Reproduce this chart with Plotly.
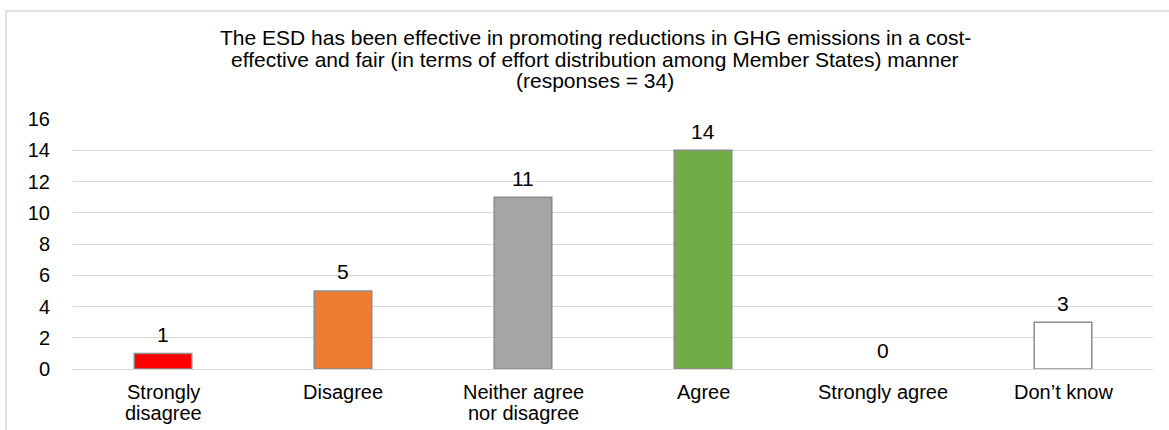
import plotly.graph_objects as go

categories = ["Strongly<br>disagree", "Disagree", "Neither agree<br>nor disagree", "Agree", "Strongly agree", "Don\u2019t know"]
values = [1, 5, 11, 14, 0, 3]
colors = ["#ff0000", "#ed7d31", "#a5a5a5", "#70ad47", "#ffffff", "#ffffff"]
tick_vals = [0, 2, 4, 6, 8, 10, 12, 14, 16]
title_lines = [
    "The ESD has been effective in promoting reductions in GHG emissions in a cost-",
    "effective and fair (in terms of effort distribution among Member States) manner",
    "(responses = 34)",
]

font_family = "Liberation Sans, Arial, sans-serif"
W, H = 1169, 430
L, R, T, B = 73, 16, 119, 61
PW, PH = W - L - R, H - T - B


def px_x(p):
    return (p - L) / PW


def px_y(p):
    return (H - B - p) / PH


fig = go.Figure(go.Bar(
    x=categories, y=values,
    marker=dict(color=colors,
                line=dict(color="#8c8c8c", width=[1.5 if v > 0 else 0 for v in values])),
    width=0.32,
    hoverinfo="x+y",
))

# data labels
for c, v in zip(categories, values):
    fig.add_annotation(x=c, y=v, xref="x", yref="y", text=str(v), showarrow=False,
                       yshift=19, yanchor="middle",
                       font=dict(size=21, color="#000000", family=font_family))

# category labels (one annotation per line for tight spacing like the reference)
for c in categories:
    for i, line in enumerate(c.split("<br>")):
        fig.add_annotation(x=c, xref="x", yref="paper", y=px_y(392 + 21 * i), text=line,
                           showarrow=False, yanchor="middle",
                           font=dict(size=20, color="#000000", family=font_family))

# title lines
for i, line in enumerate(title_lines):
    fig.add_annotation(x=px_x(595), xref="paper", yref="paper", y=px_y(38 + 21 * i), text=line,
                       showarrow=False, xanchor="center", yanchor="middle",
                       font=dict(size=21, color="#000000", family=font_family))

fig.update_layout(
    width=W, height=H,
    margin=dict(l=L, r=R, t=T, b=B),
    paper_bgcolor="white", plot_bgcolor="white",
    font=dict(family=font_family, size=20, color="#000000"),
    showlegend=False,
    xaxis=dict(showgrid=False, showline=False, ticks="", showticklabels=False),
    yaxis=dict(range=[0, 16], tickvals=tick_vals, showgrid=True, gridcolor="#d9d9d9",
               gridwidth=1, zeroline=True, zerolinecolor="#d9d9d9", zerolinewidth=1,
               ticks="", tickfont=dict(size=20), ticklabelstandoff=22),
    shapes=[dict(type="rect", xref="paper", yref="paper",
                 x0=px_x(6), x1=px_x(W + 20), y0=px_y(H + 20), y1=px_y(11),
                 line=dict(color="#d9d9d9", width=1.5), fillcolor="rgba(0,0,0,0)", layer="below")],
)

fig.write_html("out.html")
